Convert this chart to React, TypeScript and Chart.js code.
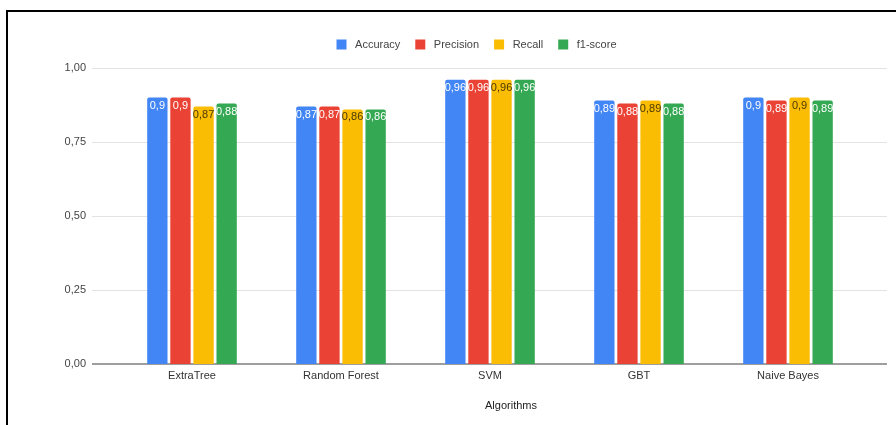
import React, { useEffect, useRef } from "react";
import { Chart, registerables } from "chart.js";

Chart.register(...registerables);

const categories = ["ExtraTree", "Random Forest", "SVM", "GBT", "Naive Bayes"];
const seriesNames = ["Accuracy", "Precision", "Recall", "f1-score"];
const accuracy = [0.9, 0.87, 0.96, 0.89, 0.9];
const precision = [0.9, 0.87, 0.96, 0.88, 0.89];
const recall = [0.87, 0.86, 0.96, 0.89, 0.9];
const f1score = [0.88, 0.86, 0.96, 0.88, 0.89];
const colors = ["#4285F4", "#EA4335", "#FBBC04", "#34A853"];
const labelColors = ["#ffffff", "#ffffff", "#4a3a00", "#ffffff"];
const yTicks = [0, 0.25, 0.5, 0.75, 1];
const xTitle = "Algorithms";

const FONT = "'Liberation Sans', Arial, sans-serif";
const fmt = (v: number) => String(v).replace(".", ",");

const gridPlugin = {
  id: "gridExt",
  beforeDatasetsDraw(chart: any) {
    const { ctx, chartArea, scales } = chart;
    const y = scales.y;
    const left = chartArea.left - 25.5;
    const right = chartArea.right + 24.5;
    ctx.save();
    for (const v of yTicks) {
      const py = Math.round(y.getPixelForValue(v));
      ctx.beginPath();
      if (v === 0) {
        ctx.strokeStyle = "#9e9e9e";
        ctx.lineWidth = 2;
        ctx.moveTo(left, py);
        ctx.lineTo(right, py);
      } else {
        ctx.strokeStyle = "#e3e3e3";
        ctx.lineWidth = 1;
        ctx.moveTo(left, py + 0.5);
        ctx.lineTo(right, py + 0.5);
      }
      ctx.stroke();
    }
    ctx.restore();
  },
  afterDatasetsDraw(chart: any) {
    const { ctx } = chart;
    ctx.save();
    ctx.font = `11px ${FONT}`;
    ctx.textAlign = "center";
    ctx.textBaseline = "middle";
    chart.data.datasets.forEach((ds: any, di: number) => {
      const meta = chart.getDatasetMeta(di);
      meta.data.forEach((el: any, i: number) => {
        ctx.fillStyle = labelColors[di];
        ctx.fillText(fmt(ds.data[i]), el.x, el.y + 8);
      });
    });
    ctx.restore();
  },
  afterDraw(chart: any) {
    const { ctx } = chart;
    ctx.save();
    ctx.font = `11px ${FONT}`;
    ctx.fillStyle = "#222";
    ctx.textAlign = "center";
    ctx.textBaseline = "middle";
    ctx.fillText(xTitle, 511, 406);
    ctx.restore();
  },
};

const hiddenAxis = {
  display: true,
  grid: { display: false, drawTicks: false },
  border: { display: false },
  ticks: { display: false },
};

export default function App() {
  const ref = useRef<HTMLCanvasElement>(null);
  useEffect(() => {
    if (!ref.current) return;
    const seriesData = [accuracy, precision, recall, f1score];
    const chart = new Chart(ref.current, {
      type: "bar",
      data: {
        labels: categories,
        datasets: seriesNames.map((name, i) => ({
          label: name,
          data: seriesData[i],
          backgroundColor: colors[i],
          borderWidth: 0,
          borderRadius: 2,
          borderSkipped: "bottom" as const,
          barPercentage: 0.88,
          categoryPercentage: 0.62,
        })),
      },
      options: {
        responsive: false,
        animation: false,
        layout: { padding: { left: 57, right: 0, top: 24, bottom: 31 } },
        plugins: {
          legend: {
            position: "top",
            labels: {
              boxWidth: 10,
              boxHeight: 10,
              padding: 15,
              color: "#444",
              font: { family: FONT, size: 11 },
              generateLabels: (chart: any) =>
                Chart.defaults.plugins.legend.labels
                  .generateLabels(chart)
                  .map((l: any) => ({ ...l, text: " " + l.text })),
            },
          },
          tooltip: { enabled: false },
        },
        scales: {
          x: {
            grid: { display: false, drawTicks: false },
            border: { display: false },
            ticks: { color: "#333", font: { family: FONT, size: 11 }, padding: 5 },
            afterFit: (s: any) => {
              s.height = 30;
            },
          },
          xTop: {
            ...hiddenAxis,
            type: "category",
            position: "top",
            afterFit: (s: any) => {
              s.height = 8;
            },
          },
          y: {
            min: 0,
            max: 1,
            grid: { display: false, drawTicks: false },
            border: { display: false },
            ticks: {
              stepSize: 0.25,
              padding: 31.5,
              color: "#444",
              font: { family: FONT, size: 11 },
              callback: (v: any) => Number(v).toFixed(2).replace(".", ","),
            },
            afterFit: (s: any) => {
              s.width = 60.5;
            },
          },
          yRight: {
            ...hiddenAxis,
            type: "linear",
            position: "right",
            afterFit: (s: any) => {
              s.width = 33.5;
            },
          },
        },
      } as any,
      plugins: [gridPlugin],
    });
    return () => chart.destroy();
  }, []);
  return (
    <div style={{ position: "absolute", left: 0, top: 0, width: 896, height: 425, overflow: "hidden", background: "#fff" }}>
      <div
        style={{
          position: "absolute",
          left: 6,
          top: 10,
          width: 900,
          height: 430,
          borderTop: "2px solid #000",
          borderLeft: "2px solid #000",
        }}
      />
      <canvas ref={ref} width={896} height={425} style={{ position: "absolute", left: 0, top: 0 }} />
    </div>
  );
}
